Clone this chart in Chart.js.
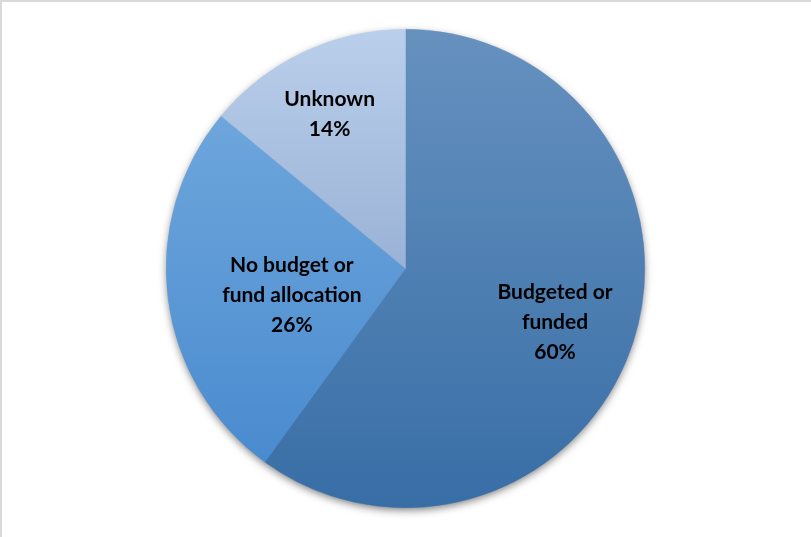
<!DOCTYPE html>
<html>
<head>
<meta charset="utf-8">
<script src="https://cdn.jsdelivr.net/npm/chart.js@4"></script>
<style>
  html, body { margin: 0; padding: 0; background: #fff; }
  #marco { position: relative; width: 811px; height: 537px; }
  #borde { position: absolute; left: 0; top: 0; width: 811px; height: 537px; box-sizing: border-box;
           border-left: 2px solid #d9d9d9; border-top: 2px solid #d9d9d9; pointer-events: none; }
</style>
</head>
<body>
<div id="marco">
  <canvas id="grafico" width="811" height="537"></canvas>
  <div id="borde"></div>
</div>
<script>
// Datos del gráfico
const categorias = ['Budgeted or funded', 'No budget or fund allocation', 'Unknown'];
const etiquetas = [['Budgeted or', 'funded'], ['No budget or', 'fund allocation'], ['Unknown']];
const porcentajes = [60, 26, 14];

// Degradados (color arriba, color abajo, posición de las paradas)
const degradados = [
    { arriba: '#6691bf', abajo: '#386ea6', desde: 0, hasta: 1 },
    { arriba: '#6ea6dc', abajo: '#4a8bcf', desde: 0.175, hasta: 0.895 },
    { arriba: '#bacfeb', abajo: '#9ab2d6', desde: 0, hasta: 0.5 },
];
// Centro de cada etiqueta, en fracciones del radio respecto al centro del círculo
const posEtiqueta = [[0.625, 0.225], [-0.475, 0.112], [-0.317, -0.646]];

function colorDegradado(ctx) {
    const area = ctx.chart.chartArea;
    if (!area) return '#5b9bd5';
    const d = degradados[ctx.dataIndex];
    const g = ctx.chart.ctx.createLinearGradient(0, area.top, 0, area.bottom);
    g.addColorStop(d.desde, d.arriba);
    g.addColorStop(d.hasta, d.abajo);
    return g;
}

// Sombra debajo del círculo
const sombraPlugin = {
    id: 'sombra',
    beforeDatasetsDraw(chart) {
        const arco = chart.getDatasetMeta(0).data[0];
        if (!arco) return;
        const c = chart.ctx;
        c.save();
        c.shadowColor = 'rgba(0,0,0,0.55)';
        c.shadowBlur = 9;
        c.shadowOffsetY = 3;
        c.beginPath();
        c.arc(arco.x, arco.y, arco.outerRadius - 1, 0, Math.PI * 2);
        c.fillStyle = '#3a6fa7';
        c.fill();
        c.restore();
    }
};

// Etiquetas dentro de las porciones
const etiquetasPlugin = {
    id: 'etiquetas',
    afterDatasetsDraw(chart) {
        const c = chart.ctx;
        const meta = chart.getDatasetMeta(0);
        c.save();
        c.font = 'bold 21px Lato';
        c.fillStyle = '#000';
        c.textAlign = 'center';
        c.textBaseline = 'middle';
        meta.data.forEach((arco, i) => {
            const x = arco.x + posEtiqueta[i][0] * arco.outerRadius;
            const y = arco.y + posEtiqueta[i][1] * arco.outerRadius;
            const lineas = [...etiquetas[i], porcentajes[i] + '%'];
            const alto = 30;
            lineas.forEach((t, j) => {
                c.fillText(t, x, y + (j - (lineas.length - 1) / 2) * alto);
            });
        });
        c.restore();
    }
};

new Chart(document.getElementById('grafico'), {
    type: 'pie',
    data: {
        labels: categorias,
        datasets: [{
            data: porcentajes,
            backgroundColor: colorDegradado,
            borderColor: colorDegradado,
            borderWidth: 0.5,
        }]
    },
    options: {
        responsive: false,
        animation: false,
        layout: { padding: { top: 29, bottom: 29 } },
        plugins: {
            legend: { display: false },
            tooltip: { enabled: false },
        },
    },
    plugins: [sombraPlugin, etiquetasPlugin],
});
</script>
</body>
</html>
